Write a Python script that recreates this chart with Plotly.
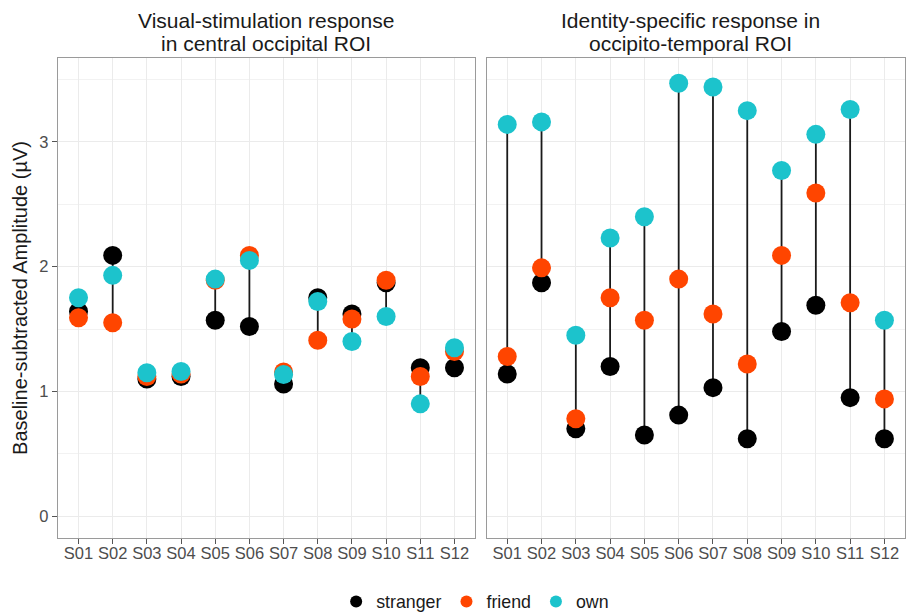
import plotly.graph_objects as go

subjects = ["S01", "S02", "S03", "S04", "S05", "S06",
            "S07", "S08", "S09", "S10", "S11", "S12"]

# Visual-stimulation response, central occipital ROI (µV)
visual_stranger = [1.64, 2.09, 1.10, 1.12, 1.57, 1.52, 1.06, 1.75, 1.62, 1.87, 1.19, 1.19]
visual_friend = [1.59, 1.55, 1.12, 1.14, 1.89, 2.09, 1.155, 1.41, 1.58, 1.89, 1.12, 1.32]
visual_own = [1.75, 1.93, 1.15, 1.16, 1.90, 2.05, 1.135, 1.72, 1.40, 1.60, 0.90, 1.35]

# Identity-specific response, occipito-temporal ROI (µV)
ident_stranger = [1.14, 1.87, 0.70, 1.20, 0.65, 0.81, 1.03, 0.62, 1.48, 1.69, 0.95, 0.62]
ident_friend = [1.28, 1.99, 0.78, 1.75, 1.57, 1.90, 1.62, 1.22, 2.09, 2.59, 1.71, 0.94]
ident_own = [3.14, 3.16, 1.45, 2.23, 2.40, 3.47, 3.44, 3.25, 2.77, 3.06, 3.26, 1.57]

conditions = ["stranger", "friend", "own"]
colors = {"stranger": "#000000", "friend": "#FF4500", "own": "#1CC3CC"}

panels = [
    ("x", "y", {"stranger": visual_stranger, "friend": visual_friend, "own": visual_own}),
    ("x2", "y2", {"stranger": ident_stranger, "friend": ident_friend, "own": ident_own}),
]

FONT = "Liberation Sans, Arial, sans-serif"
fig = go.Figure()

for i, (xa, ya, series) in enumerate(panels):
    # vertical range line per subject spanning the three conditions
    lx, ly = [], []
    for k, s in enumerate(subjects):
        vals = [series[c][k] for c in conditions]
        lx += [s, s, None]
        ly += [min(vals), max(vals), None]
    fig.add_trace(go.Scatter(
        x=lx, y=ly, mode="lines", xaxis=xa, yaxis=ya,
        line=dict(color="#1a1a1a", width=1.8),
        showlegend=False, hoverinfo="skip"))
    for c in conditions:
        fig.add_trace(go.Scatter(
            x=subjects, y=series[c], mode="markers", name=c,
            xaxis=xa, yaxis=ya, legendgroup=c, showlegend=(i == 0),
            marker=dict(color=colors[c], size=19, line=dict(width=0))))

y_range = [-0.175, 3.672]
common_x = dict(
    type="category", categoryorder="array", categoryarray=subjects,
    range=[-0.6, 11.6], showgrid=True, gridcolor="#EBEBEB", gridwidth=1,
    showline=True, mirror=True, linecolor="#9A9A9A", linewidth=1.3,
    ticks="outside", ticklen=5, tickcolor="#555555", tickwidth=1,
    ticklabelstandoff=-5,
    tickfont=dict(family=FONT, size=16.5, color="#4D4D4D"), zeroline=False)
common_y = dict(
    range=y_range, tickvals=[0, 1, 2, 3], showgrid=True, gridcolor="#EBEBEB",
    gridwidth=1, minor=dict(dtick=0.5, showgrid=True, gridcolor="#F2F2F2", gridwidth=0.8),
    showline=True, mirror=True, linecolor="#9A9A9A", linewidth=1.3,
    ticks="outside", ticklen=5, tickcolor="#555555", tickwidth=1,
    tickfont=dict(family=FONT, size=16.5, color="#4D4D4D"), zeroline=False)

fig.update_layout(
    width=906, height=616,
    margin=dict(l=58, r=1, t=58, b=78, autoexpand=False),
    paper_bgcolor="white", plot_bgcolor="white",
    font=dict(family=FONT, color="#1a1a1a"),
    xaxis=dict(common_x, domain=[0, 0.4923], anchor="y"),
    xaxis2=dict(common_x, domain=[0.5061, 1], anchor="y2"),
    yaxis=dict(common_y, anchor="x",
               title=dict(text="Baseline-subtracted Amplitude (µV)",
                          font=dict(family=FONT, size=20, color="#1a1a1a"), standoff=6)),
    yaxis2=dict(common_y, anchor="x2", showticklabels=False, ticks=""),
    legend=dict(orientation="h", x=0.4925, xanchor="center", y=-0.133, yanchor="middle",
                font=dict(family=FONT, size=17.8, color="#1a1a1a"),
                itemsizing="constant", tracegroupgap=0, itemwidth=30),
    showlegend=True,
)

# two-line panel titles, each line placed separately for tight line spacing
titles = [
    (["Visual-stimulation response", "in central occipital ROI"], 266),
    (["Identity-specific response in", "occipito-temporal ROI"], 690),
]
line_centres = [20, 43]
for lines, px in titles:
    for text, cy in zip(lines, line_centres):
        fig.add_annotation(
            text=text, xref="paper", yref="paper",
            x=(px - 58) / 847, y=1 + (58 - cy) / 480,
            xanchor="center", yanchor="middle",
            showarrow=False, align="center",
            font=dict(family=FONT, size=21, color="#1a1a1a"))

fig.write_html("out.html")
